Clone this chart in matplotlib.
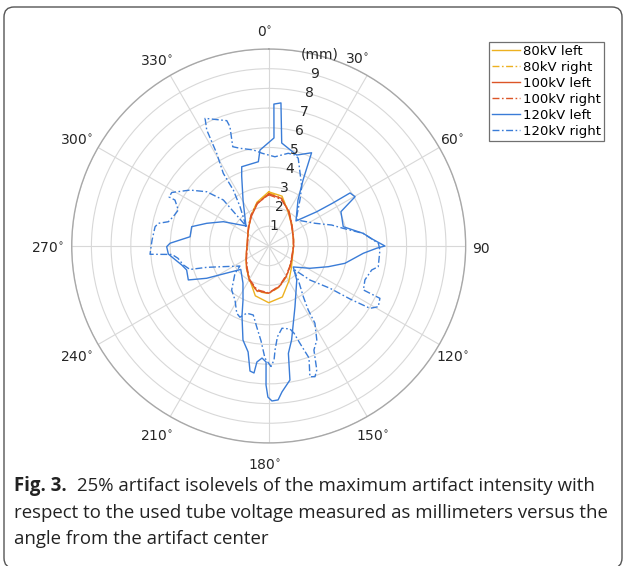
import numpy as np
import matplotlib
matplotlib.use("Agg")
import matplotlib.pyplot as plt
import matplotlib.transforms as mtransforms
from matplotlib.patches import FancyBboxPatch

# ---- data: angle (deg, clockwise from top) and radius (mm) ----
ell_theta = [0, 15, 30, 45, 60, 75, 90, 105, 120, 135, 150, 165, 180,
             195, 210, 225, 240, 255, 270, 285, 300, 315, 330, 345, 360]
r_80_left = [2.75, 2.62, 1.98, 1.62, 1.40, 1.30, 1.25, 1.27, 1.38, 1.62, 2.05, 2.68, 2.88,
             2.62, 1.95, 1.60, 1.32, 1.17, 1.10, 1.12, 1.22, 1.42, 1.78, 2.30, 2.75]
r_80_right = [2.70, 2.55, 2.05, 1.65, 1.42, 1.31, 1.27, 1.27, 1.35, 1.52, 1.80, 2.15, 2.42,
              2.38, 2.00, 1.58, 1.32, 1.16, 1.09, 1.11, 1.22, 1.43, 1.78, 2.28, 2.70]
r_100_left = [2.65, 2.50, 2.02, 1.62, 1.40, 1.30, 1.27, 1.26, 1.35, 1.52, 1.78, 2.12, 2.40,
              2.35, 1.98, 1.58, 1.32, 1.17, 1.10, 1.12, 1.22, 1.42, 1.75, 2.22, 2.65]
r_100_right = [2.60, 2.45, 2.05, 1.65, 1.42, 1.30, 1.25, 1.25, 1.33, 1.50, 1.75, 2.10, 2.38,
               2.30, 1.95, 1.55, 1.30, 1.15, 1.08, 1.10, 1.22, 1.45, 1.80, 2.25, 2.60]

theta_120_left = [311.4, 330.8, 338.9, 341.2, 353.0, 354.8, 2.8, 2.1, 4.9, 7.2, 17.1, 24.7,
                  27.5, 32.5, 47.5, 54.5, 56.2, 56.9, 60.3, 64.6, 75.5, 82.4, 86.1, 90.0,
                  91.2, 94.4, 102.8, 109.2, 118.4, 130.5, 140.5, 156.6, 166.3, 169.6, 171.0,
                  174.8, 176.5, 178.8, 180.3, 181.1, 181.3, 183.4, 185.8, 186.6, 188.5, 191.0,
                  195.3, 200.9, 205.4, 214.8, 230.0, 242.5, 247.1, 253.7, 257.7, 262.7, 265.4,
                  269.6, 271.6, 276.7, 284.1, 290.1, 298.2, 311.4]
r_120_left = [1.54, 2.67, 3.81, 4.25, 4.31, 4.89, 5.49, 7.21, 7.29, 5.27, 4.83, 5.21,
              3.78, 2.77, 1.88, 2.99, 3.93, 4.93, 5.05, 4.06, 3.91, 4.84, 5.26, 5.90,
              5.48, 4.82, 3.97, 3.20, 2.38, 1.64, 2.24, 3.36, 4.91, 5.54, 6.89,
              7.44, 7.83, 7.87, 7.67, 7.06, 5.89, 5.70, 5.92, 6.49, 6.42, 5.48,
              4.95, 3.80, 3.04, 2.29, 1.85, 3.55, 4.43, 4.34, 4.52, 4.88, 5.11,
              5.18, 5.01, 4.02, 4.03, 3.35, 2.61, 1.54]

theta_120_right = [311.4, 323.9, 327.7, 328.0, 330.7, 331.9, 333.5, 341.5, 342.0, 340.1, 343.6,
                   350.9, 355.9, 4.0, 11.9, 16.1, 18.6, 29.1, 34.2, 43.7, 47.1, 63.9, 71.6,
                   76.7, 82.4, 88.6, 92.1, 100.7, 103.1, 109.4, 114.9, 115.2, 119.0, 121.6,
                   123.1, 124.6, 129.5, 133.1, 139.0, 145.7, 148.3, 149.1, 152.9, 156.5,
                   158.8, 160.5, 162.5, 160.2, 162.2, 163.8, 165.6, 170.8, 174.5, 176.5,
                   177.3, 178.9, 181.9, 184.6, 188.5, 192.6, 198.1, 202.0, 205.4, 212.0,
                   220.1, 231.0, 235.1, 245.5, 251.0, 253.4, 257.5, 262.3, 265.0, 266.0,
                   272.9, 279.6, 281.6, 283.6, 287.1, 291.7, 296.1, 296.2, 298.9, 305.4,
                   311.2, 315.4, 311.4]
r_120_right = [1.54, 2.47, 3.36, 4.35, 5.40, 6.68, 7.24, 6.71, 6.37, 5.36, 5.17,
               4.94, 4.72, 4.54, 4.81, 4.81, 4.70, 3.45, 2.82, 2.06, 1.94, 2.62, 3.37,
               3.89, 4.84, 5.57, 5.65, 5.66, 5.37, 5.18, 5.30, 6.24, 6.36, 6.04,
               4.93, 3.78, 2.72, 1.71, 2.29, 3.12, 3.82, 4.57, 5.36, 5.76,
               6.75, 7.04, 6.96, 6.04, 5.19, 4.61, 4.35, 4.23, 4.63, 5.29,
               5.79, 6.12, 5.70, 4.84, 4.14, 3.59, 3.59, 3.90, 3.78, 3.23,
               2.92, 2.20, 1.78, 2.53, 3.33, 4.17, 4.44, 4.65, 4.93, 6.04,
               5.93, 5.85, 5.72, 5.24, 5.07, 4.94, 5.30, 5.64, 5.62, 4.90,
               4.18, 3.28, 1.54]

series_labels = ["80kV left", "80kV right", "100kV left", "100kV right",
                 "120kV left", "120kV right"]
angle_ticks = [0, 30, 60, 90, 120, 150, 180, 210, 240, 270, 300, 330]
angle_labels = [r"0$^{\circ}$", r"30$^{\circ}$", r"60$^{\circ}$", "90", r"120$^{\circ}$",
                r"150$^{\circ}$", r"180$^{\circ}$", r"210$^{\circ}$", r"240$^{\circ}$",
                r"270$^{\circ}$", r"300$^{\circ}$", r"330$^{\circ}$"]
radius_ticks = [1, 2, 3, 4, 5, 6, 7, 8, 9, 10]
radius_labels = ["1", "2", "3", "4", "5", "6", "7", "8", "9", "(mm)"]

yellow = "#EDB120"
red = "#DC5527"
blue = "#3A7CD7"
dashdot = (0, (5, 1.8, 1.2, 1.8))
lw = 1.0

fig = plt.figure(figsize=(6.24, 5.66), dpi=100)

# rounded frame around the whole figure
frame = FancyBboxPatch((0.04, -0.02), 6.18, 5.61, boxstyle="round,pad=0,rounding_size=0.1",
                       transform=fig.dpi_scale_trans, facecolor="white",
                       edgecolor="#555555", linewidth=1.0, zorder=0)
fig.add_artist(frame)

ax = fig.add_axes([0.1149, 0.2174, 0.6314, 0.696], projection="polar")
ax.set_theta_zero_location("N")
ax.set_theta_direction(-1)
ax.set_facecolor("none")

t = np.deg2rad(ell_theta)
ax.plot(t, r_80_left, color=yellow, lw=lw, label=series_labels[0])
ax.plot(t, r_80_right, color=yellow, lw=lw, ls=dashdot, label=series_labels[1])
ax.plot(t, r_100_left, color=red, lw=lw, label=series_labels[2])
ax.plot(t, r_100_right, color=red, lw=lw, ls=dashdot, label=series_labels[3])
ax.plot(np.deg2rad(theta_120_left), r_120_left, color=blue, lw=lw, label=series_labels[4])
ax.plot(np.deg2rad(theta_120_right), r_120_right, color=blue, lw=lw, ls=dashdot,
        label=series_labels[5])

ax.set_ylim(0, 10)
ax.set_yticks(radius_ticks)
ax.set_yticklabels([])
ax.set_xticks(np.deg2rad(angle_ticks))
ax.set_xticklabels([])
ax.grid(True, color="#d8d8d8", lw=0.8)
ax.spines["polar"].set_color("#a8a8a8")
ax.spines["polar"].set_linewidth(1.0)
ax.tick_params(length=0)

# angle labels, nudged a little left/down like the original
shift = ax.transData + mtransforms.ScaledTranslation(-0.04, -0.03, fig.dpi_scale_trans)
for a, lab in zip(angle_ticks, angle_labels):
    pos_a, pos_r = a, 11.0
    if a == 30:
        pos_a, pos_r = 26.0, 10.68
    ax.text(np.deg2rad(pos_a), pos_r, lab, ha="center", va="center", fontsize=10,
            color="#262626", clip_on=False, transform=shift)
for rr, lab in zip(radius_ticks, radius_labels):
    ax.text(np.deg2rad(15), rr + 0.05, lab, ha="center", va="center", fontsize=10,
            color="#262626")

leg = ax.legend(loc="upper right", bbox_to_anchor=(604 / 624, 1 - 41.7 / 566),
                bbox_transform=fig.transFigure, fontsize=9.5, frameon=True, fancybox=False,
                borderpad=0.25, labelspacing=0.22, handlelength=2.1, handletextpad=0.2,
                borderaxespad=0)
leg.get_frame().set_edgecolor("#707070")
leg.get_frame().set_linewidth(0.9)
leg.get_frame().set_alpha(1)

# caption
cap_font = "Open Sans"
cap_size = 13.4
x0 = 14 / 624
bold = fig.text(x0, 75 / 566, "Fig. 3.", fontsize=cap_size, fontweight="bold",
                family=cap_font, va="baseline", color="#222222")
fig.canvas.draw()
bb = bold.get_window_extent()
fig.text((bb.x1 + 10) / 624, 75 / 566,
         "25% artifact isolevels of the maximum artifact intensity with",
         fontsize=cap_size, family=cap_font, va="baseline", color="#222222")
fig.text(x0, 48 / 566,
         "respect to the used tube voltage measured as millimeters versus the",
         fontsize=cap_size, family=cap_font, va="baseline", color="#222222")
fig.text(x0, 22 / 566, "angle from the artifact center",
         fontsize=cap_size, family=cap_font, va="baseline", color="#222222")

fig.savefig("out.png", dpi=100)
